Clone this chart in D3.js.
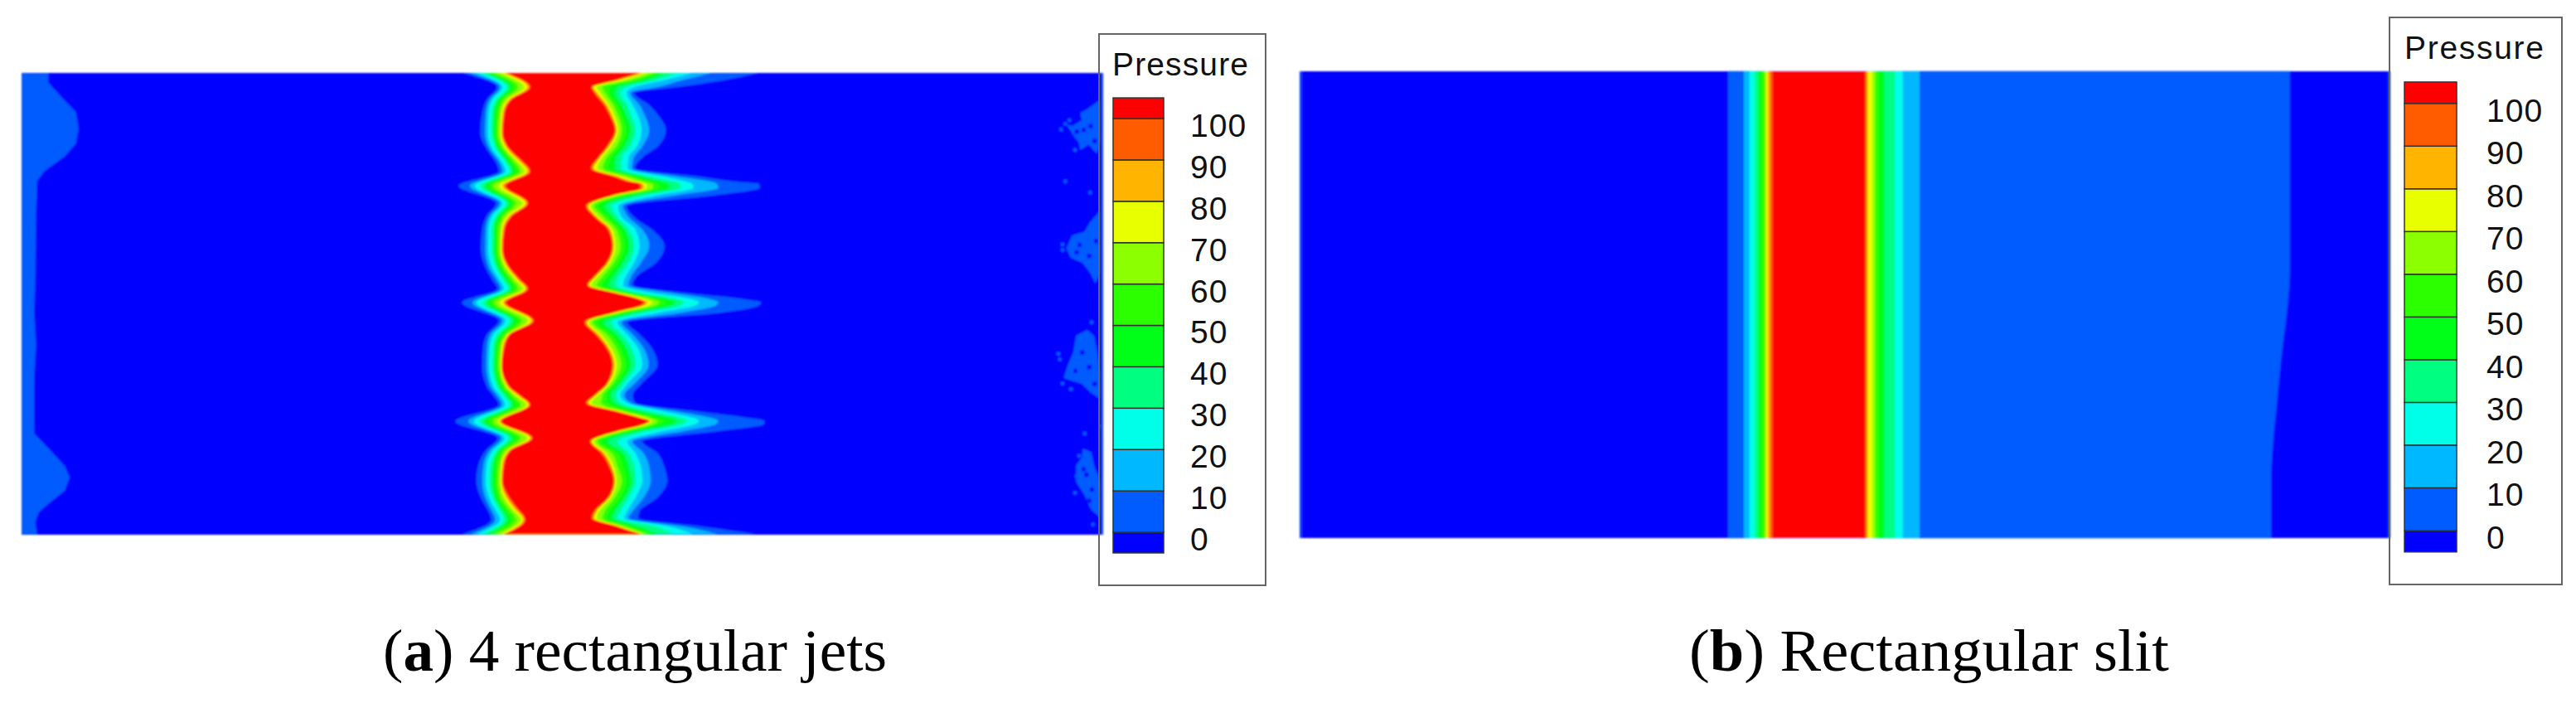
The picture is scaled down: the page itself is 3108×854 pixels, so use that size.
<!DOCTYPE html>
<html><head><meta charset="utf-8">
<script src="https://d3js.org/d3.v7.min.js"></script>
<style>html,body{margin:0;padding:0;background:#fff}svg{display:block}</style>
</head><body>
<script>
const levelColors = ["#0000ff","#005cff","#00b8ff","#00ffe8","#00ff80","#00ff18","#2cff00","#8cff00","#e8ff00","#ffb400","#ff5c00","#ff0000"];
const legendTicks = [0,10,20,30,40,50,60,70,80,90,100];
const legendBreaks = [-5,0,10,20,30,40,50,60,70,80,90,100,105];
const legendTitle = "Pressure";

// panel (a): contour positions per row, outermost level first (reading units = 1/3 px)
const jetLeftRows = [
[55,175,200,225,245,262,275,290,310,322,330,335],
[105,298,308,318,335,345,358,375,395,408,415,420],
[150,262,272,282,296,304,314,324,336,343,348,352],
[200,245,258,268,280,288,297,306,314,319,323,327],
[270,238,255,266,278,286,294,302,309,314,318,321],
[330,262,272,282,296,304,314,322,330,336,342,346],
[370,290,302,312,326,334,346,356,368,376,382,388],
[410,305,318,330,345,355,368,382,398,408,415,420],
[462,160,200,218,240,255,270,285,305,318,325,332],
[525,295,308,318,332,342,354,368,390,402,408,412],
[570,262,272,282,296,304,314,324,336,344,350,355],
[620,245,258,268,280,288,297,306,314,319,323,327],
[690,240,256,267,280,288,296,304,310,314,318,321],
[760,258,270,282,296,304,314,322,332,338,342,346],
[800,280,295,306,320,330,342,352,364,372,376,382],
[835,300,312,324,340,350,362,376,392,402,407,412],
[885,172,210,225,248,262,275,290,308,320,326,332],
[950,305,318,330,346,358,372,390,412,422,428,432],
[1000,262,274,286,300,310,320,330,338,342,344,347],
[1050,248,262,272,284,292,300,308,315,319,322,326],
[1115,245,260,270,282,290,298,305,311,314,316,318],
[1190,262,275,286,300,308,318,326,334,338,342,346],
[1220,285,298,310,322,332,344,354,366,374,378,384],
[1255,305,316,328,345,356,370,386,405,412,416,420],
[1315,148,195,215,238,252,268,284,302,308,312,315],
[1375,300,314,326,342,354,368,385,408,418,424,428],
[1420,258,272,284,298,306,316,326,338,342,346,350],
[1470,232,250,262,276,286,296,306,314,318,322,326],
[1530,224,245,258,272,282,292,302,310,314,317,320],
[1590,240,256,270,284,292,302,312,324,332,338,345],
[1630,262,275,290,305,314,325,340,352,360,368,374],
[1670,278,292,310,324,336,350,368,385,392,398,402],
[1723,172,205,225,245,262,275,292,310,320,326,330]
];
const jetRightRows = [
[55,1245,1075,1005,950,905,885,865,845,830,820,812],
[80,1120,970,905,870,835,810,785,755,740,730,722],
[105,950,880,795,765,735,705,680,660,648,643,640],
[125,795,782,768,745,725,705,690,672,662,656,650],
[170,850,815,790,770,750,735,720,705,698,692,686],
[210,885,835,810,785,768,752,738,725,717,712,708],
[260,910,850,822,800,782,765,750,738,732,728,725],
[320,880,825,805,780,760,745,730,712,705,700,696],
[360,825,795,775,750,730,712,695,680,672,668,664],
[400,798,788,772,748,725,700,682,662,650,643,638],
[430,1040,960,905,860,825,800,780,755,742,732,722],
[448,1170,1075,985,940,895,860,835,810,795,785,775],
[455,1248,1095,1005,960,920,885,862,840,828,820,812],
[470,1250,1100,1010,962,922,886,864,842,832,824,816],
[495,1100,960,885,840,800,775,755,735,728,724,720],
[535,768,755,738,712,690,665,650,638,630,625,620],
[575,795,775,750,735,718,700,685,668,662,656,652],
[620,860,825,800,775,760,745,730,716,710,705,700],
[680,905,850,815,795,778,760,745,728,722,718,715],
[740,875,820,795,775,755,738,722,708,702,698,695],
[790,805,785,765,740,720,700,682,665,658,654,650],
[822,790,775,755,730,705,680,660,640,633,628,625],
[850,985,930,860,815,790,770,755,738,730,725,720],
[872,1190,1070,1000,950,915,880,860,835,820,812,805],
[884,1255,1100,1030,975,945,910,885,860,845,836,830],
[896,1245,1090,1015,960,925,890,868,845,830,820,812],
[920,1120,975,890,835,800,775,755,738,730,725,720],
[955,770,750,735,712,685,660,645,632,625,620,615],
[1000,815,790,770,750,730,712,695,675,668,660,655],
[1050,860,830,810,785,765,745,730,712,705,700,695],
[1110,880,848,825,800,782,765,748,732,725,720,715],
[1180,820,795,770,755,740,728,715,705,700,697,695],
[1220,790,760,745,730,710,695,680,665,658,654,650],
[1248,800,785,770,745,725,700,675,640,630,625,620],
[1280,1040,960,910,860,825,790,770,755,745,738,730],
[1302,1210,1075,1010,965,925,880,855,835,825,818,812],
[1313,1268,1100,1030,985,950,905,880,860,855,850,845],
[1325,1265,1090,1015,965,930,885,862,842,835,830,822],
[1350,1100,975,900,840,805,780,762,745,738,734,730],
[1387,825,790,770,735,700,675,660,650,642,638,635],
[1430,880,830,800,775,755,735,715,695,688,682,675],
[1480,905,850,820,795,775,755,735,722,715,710,705],
[1530,915,855,825,800,785,765,750,732,727,723,720],
[1590,880,830,800,775,760,745,725,712,707,703,700],
[1640,815,790,770,745,725,705,688,668,660,655,650],
[1665,810,775,760,735,715,695,680,660,652,645,640],
[1695,1040,975,920,870,810,780,765,745,738,734,730],
[1723,1240,1100,1010,935,880,860,845,830,822,818,815]
];
const inletBlob = [[58,72],[130,72],[130,100],[170,150],[205,190],[212,240],[205,285],[175,325],[120,370],[100,400],[97,500],[95,700],[92,800],[97,900],[92,1000],[92,1170],[130,1215],[175,1270],[188,1305],[175,1345],[130,1385],[105,1410],[95,1440],[100,1478],[58,1478]];
const outletPatches = [
[[440,225],[395,250],[370,260],[375,280],[340,295],[320,290],[345,320],[365,340],[370,360],[400,345],[430,370],[440,340]],
[[440,525],[405,555],[385,580],[340,590],[320,625],[335,650],[380,665],[405,690],[425,720],[440,690]],
[[395,845],[420,860],[430,900],[440,960],[440,1030],[410,1015],[375,990],[310,975],[325,940],[345,905],[355,860]],
[[380,1165],[410,1175],[420,1210],[440,1250],[440,1350],[410,1330],[385,1290],[355,1255],[355,1210],[375,1190]]
];
const outletSpecks = [[295,300],[310,285],[300,625],[290,920],[315,965],[350,1235],[360,1180],[400,470],[310,440],[440,1100],[380,1120],[325,275],[345,355],[300,610],[285,905],[330,1000],[300,985],[345,1280],[410,1365],[405,820]];
const outletHoles = [[375,300],[400,290],[350,305],[415,330],[360,610],[395,640],[350,630],[420,600],[370,900],[395,940],[345,950],[415,985],[385,1230],[405,1270],[395,1300],[375,1215]];

// panel (b): band edges across the slit, same reading units
const slitLeftEdges = [135,192,212,232,245,256,266,272,278,286,296];
const slitRightEdges = [null,828,767,738,700,680,668,657,642,636,630];
const slitBoundaryY = [147,685,800,900,1050,1150,1250,1407];
const slitBoundaryX = [188,188,177,160,140,127,120,120];

const svg = d3.select("body").append("svg").attr("width",3108).attr("height",854);
const defs = svg.append("defs");
defs.append("filter").attr("id","soft").attr("x","-2%").attr("y","-2%").attr("width","104%").attr("height","104%")
  .append("feGaussianBlur").attr("stdDeviation",0.9);

function legendFrame(x0,x1,y0,y1){
  svg.append("rect").attr("x",x0).attr("y",y0).attr("width",x1-x0).attr("height",y1-y0).attr("fill","#fff");
}
function legendContent(o){
  svg.append("rect").attr("x",o.box[0]).attr("y",o.box[2]).attr("width",o.box[1]-o.box[0]).attr("height",o.box[3]-o.box[2])
    .attr("fill","none").attr("stroke","#666").attr("stroke-width",2);
  svg.append("text").text(legendTitle).attr("x",o.titleX).attr("y",o.titleY)
    .attr("font-family","'Liberation Sans',Arial,sans-serif").attr("font-size",39)
    .attr("textLength",o.titleW).attr("lengthAdjust","spacing").attr("fill","#111");
  const y = d3.scaleLinear().domain([0,100]).range([o.y0,o.y100]);
  const g = svg.append("g");
  g.selectAll("rect").data(d3.pairs(legendBreaks)).join("rect")
    .attr("x",o.barX).attr("width",o.barW)
    .attr("y",d=>y(d[1])).attr("height",d=>y(d[0])-y(d[1]))
    .attr("fill",(d,i)=>levelColors[i]).attr("stroke","#333").attr("stroke-width",1.5);
  const ax = svg.append("g").attr("transform",`translate(${o.labelX},${o.labelDy})`)
    .call(d3.axisRight(y).tickValues(legendTicks).tickSize(0).tickPadding(0));
  ax.select(".domain").remove();
  ax.selectAll("text").attr("font-family","'Liberation Sans',Arial,sans-serif").attr("font-size",39)
    .attr("letter-spacing",1).attr("fill","#111");
}

// legends' white backgrounds lie under the panels
legendFrame(1326,1527,41,706);
legendFrame(2883,3091,21,705);

// ---- panel (a)
const xa = d3.scaleLinear().domain([0,1440]).range([500,980]);
const ya = d3.scaleLinear().domain([0,1830]).range([70,680]);
const blobX = d3.scaleLinear().domain([0,1568]).range([0,700]);
const blobY = d3.scaleLinear().domain([0,1568]).range([60,680]);
const patchX = d3.scaleLinear().domain([0,1200]).range([1180,1580]);
const patchY = d3.scaleLinear().domain([0,1565]).range([20,720]);
const panelA = {l:26,r:1331,t:88,b:645};
defs.append("clipPath").attr("id","clipA").append("rect").attr("x",panelA.l).attr("y",panelA.t).attr("width",panelA.r-panelA.l).attr("height",panelA.b-panelA.t);
const ga = svg.append("g").attr("filter","url(#soft)");
ga.append("rect").attr("x",panelA.l).attr("y",panelA.t).attr("width",panelA.r-panelA.l).attr("height",panelA.b-panelA.t).attr("fill",levelColors[0]);
const inner = ga.append("g").attr("clip-path","url(#clipA)");
const poly = d3.line().x(d=>blobX(d[0])).y(d=>blobY(d[1]));
inner.append("path").attr("d",poly(inletBlob)+"Z").attr("fill",levelColors[1]);
const patchLine = d3.line().x(d=>patchX(d[0])).y(d=>patchY(d[1]));
inner.selectAll("path.patch").data(outletPatches).join("path").attr("class","patch")
  .attr("d",d=>patchLine(d)+"Z").attr("fill",levelColors[1]);
inner.selectAll("rect.speck").data(outletSpecks).join("rect").attr("class","speck")
  .attr("x",d=>patchX(d[0])).attr("y",d=>patchY(d[1])).attr("width",4).attr("height",4).attr("fill",levelColors[1]);
inner.selectAll("rect.hole").data(outletHoles).join("rect").attr("class","hole")
  .attr("x",d=>patchX(d[0])).attr("y",d=>patchY(d[1])).attr("width",5).attr("height",5).attr("fill",levelColors[0]);

d3.range(11).forEach(k=>{
  const left = d3.line().x(d=>xa(d[k+1])).y(d=>ya(d[0])).curve(d3.curveMonotoneY)(jetLeftRows);
  const right = d3.line().x(d=>xa(d[k+1])).y(d=>ya(d[0])).curve(d3.curveMonotoneY)(jetRightRows.slice().reverse());
  inner.append("path").attr("d",left+"L"+right.slice(1)+"Z").attr("fill",levelColors[k+1]);
});
ga.append("rect").attr("x",panelA.r-3).attr("y",panelA.t).attr("width",3).attr("height",panelA.b-panelA.t).attr("fill","#0a3cff");

// ---- panel (b)
const xb = d3.scaleLinear().domain([0,960]).range([2040,2360]);
const xbEnd = d3.scaleLinear().domain([0,1224]).range([2700,3108]);
const yb = d3.scaleLinear().domain([0,1565]).range([20,720]);
const panelB = {l:1568,r:2884,t:86,b:649};
const gb = svg.append("g").attr("filter","url(#soft)");
gb.append("rect").attr("x",panelB.l).attr("y",panelB.t).attr("width",panelB.r-panelB.l).attr("height",panelB.b-panelB.t).attr("fill",levelColors[0]);
gb.append("path").attr("fill",levelColors[1])
  .attr("d",d3.area().curve(d3.curveMonotoneY)
    .x0(xb(slitLeftEdges[0])).x1((d,i)=>xbEnd(slitBoundaryX[i])).y(d=>yb(d))(slitBoundaryY));
d3.range(1,11).forEach(k=>{
  gb.append("rect").attr("x",xb(slitLeftEdges[k])).attr("width",xb(slitRightEdges[k])-xb(slitLeftEdges[k]))
    .attr("y",panelB.t).attr("height",panelB.b-panelB.t).attr("fill",levelColors[k+1]);
});
gb.append("rect").attr("x",panelB.l).attr("y",panelB.t).attr("width",3).attr("height",panelB.b-panelB.t).attr("fill","#0a3cff");
gb.append("rect").attr("x",panelB.r-3).attr("y",panelB.t).attr("width",3).attr("height",panelB.b-panelB.t).attr("fill","#0a3cff");

legendContent({box:[1326,1527,41,706],titleX:1342,titleY:91,titleW:164,y0:642,y100:143,barX:1343,barW:61,labelX:1436,labelDy:9});
legendContent({box:[2883,3091,21,705],titleX:2901,titleY:71,titleW:168,y0:640,y100:124.7,barX:2901,barW:63,labelX:3000,labelDy:9});

// ---- captions
function caption(letter,rest,x,w){
  const t = svg.append("text").attr("x",x).attr("y",809).attr("font-family","'Liberation Serif','Times New Roman',serif")
    .attr("font-size",72).attr("fill","#000").attr("textLength",w).attr("lengthAdjust","spacingAndGlyphs");
  t.append("tspan").text("(");
  t.append("tspan").attr("font-weight","bold").text(letter);
  t.append("tspan").text(") "+rest);
}
caption("a","4 rectangular jets",462,608);
caption("b","Rectangular slit",2038,579);
</script>
</body></html>
